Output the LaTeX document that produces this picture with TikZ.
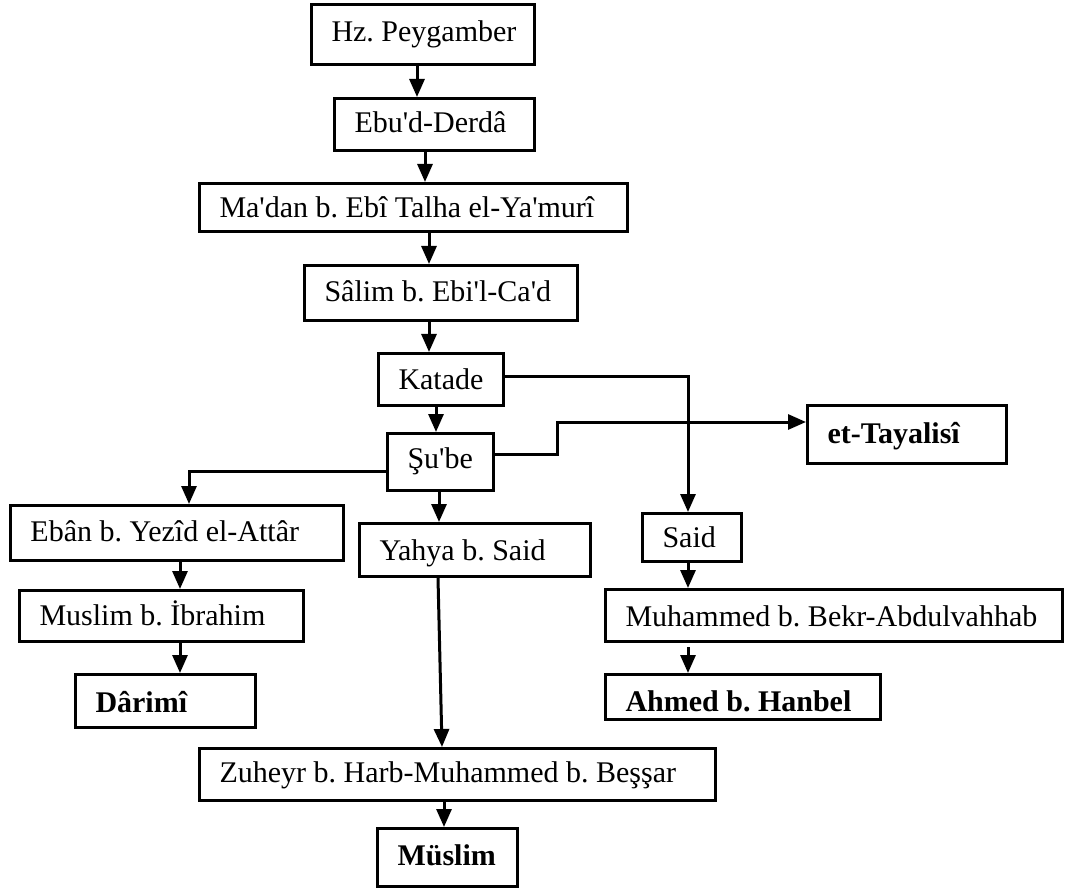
\documentclass[tikz,border=0pt]{standalone}
\usepackage{fontspec}
\setmainfont{Liberation Serif}
\usetikzlibrary{arrows.meta,calc}
\newcommand{\tb}[2]{\makebox[\dimexpr#1pt-43pt\relax][l]{#2}}
\newcommand{\q}{\textquotesingle}
\tikzset{
  box/.style={draw, line width=3pt, inner xsep=20pt, inner ysep=0pt,
    text height=18pt, text depth=0pt, font=\fontsize{30}{34}\selectfont},
  bbox/.style={box, font=\fontsize{30}{34}\selectfont\bfseries},
  arr/.style={line width=3pt, -{Triangle[length=18pt,width=15pt]}},
}
\begin{document}
\frenchspacing
\begin{tikzpicture}[x=1pt,y=-1pt]
\useasboundingbox (0,0) rectangle (1065,890);
% boxes
\node[box, minimum height=60pt, text height=15pt] (hz) at (423,34.5) {\tb{226}{Hz. Peygamber}};
\node[box, minimum height=52pt, text height=17pt] (ebu) at (434.5,124.5) {\tb{203}{Ebu\q d-Derdâ}};
\node[box, minimum height=48pt, text height=21pt] (madan) at (413.5,207.5) {\tb{431}{Ma\q dan b. Ebî Talha el-Ya\q murî}};
\node[box, minimum height=55pt, text height=17pt] (salim) at (441,293) {\tb{276}{Sâlim b. Ebi\q l-Ca\q d}};
\node[box, minimum height=52pt, text height=19pt] (katade) at (441,379.5) {\tb{128}{Katade}};
\node[box, minimum height=57pt, text height=12pt] (sube) at (440.5,462) {\tb{109}{Şu\q be}};
\node[bbox, minimum height=58pt, text height=17pt] (tayalisi) at (907,434.5) {\tb{202}{et-Tayalisî}};
\node[box, minimum height=55pt, text height=17pt] (eban) at (177,533) {\tb{336}{Ebân b. Yezîd el-Attâr}};
\node[box, minimum height=53pt, text height=20pt] (yahya) at (475,550) {\tb{234}{Yahya b. Said}};
\node[box, minimum height=48pt, text height=19pt] (said) at (692,537.5) {\tb{102}{Said}};
\node[box, minimum height=51pt, text height=18pt] (muslimib) at (161.5,616) {\tb{287}{Muslim b. İbrahim}};
\node[box, minimum height=52pt, text height=22pt] (muhammed) at (834,615.5) {\tb{460}{Muhammed b. Bekr-Abdulvahhab}};
\node[bbox, minimum height=53pt, text height=22pt] (darimi) at (165.5,701) {\tb{183}{Dârimî}};
\node[bbox, minimum height=45pt, text height=28pt] (ahmed) at (743,697) {\tb{278}{Ahmed b. Hanbel}};
\node[box, minimum height=52pt, text height=16pt] (zuheyr) at (457.5,774.5) {\tb{519}{Zuheyr b. Harb-Muhammed b. Beşşar}};
\node[bbox, minimum height=58pt, text height=15pt] (muslim) at (447.5,857.5) {\tb{143}{Müslim}};
% connectors
\draw[arr] ([xshift=-6pt]hz.south) -- ([xshift=-6pt]hz.south |- ebu.north);
\draw[arr] ([xshift=-9.5pt]ebu.south) -- ([xshift=-9.5pt]ebu.south |- madan.north);
\draw[arr] ([xshift=15.5pt]madan.south) -- ([xshift=15.5pt]madan.south |- salim.north);
\draw[arr] ([xshift=-12pt]salim.south) -- ([xshift=-12pt]salim.south |- katade.north);
\draw[arr] ([xshift=-5pt]katade.south) -- ([xshift=-5pt]katade.south |- sube.north);
\draw[arr] ([xshift=-1.5pt]sube.south) -- ([xshift=-1.5pt]sube.south |- yahya.north);
\draw[arr] ([yshift=3.5pt]katade.east) -| ([xshift=-4pt]said.north);
\draw[arr] ([yshift=8pt]sube.east) -- ++(62,0) |- ([yshift=12.5pt]tayalisi.west);
\draw[arr] ([yshift=-9pt]sube.west) -| ([xshift=12pt]eban.north);
\draw[arr] ([xshift=3pt]eban.south) -- ([xshift=3pt]eban.south |- muslimib.north);
\draw[arr] ([xshift=18.5pt]muslimib.south) -- ([xshift=18.5pt]muslimib.south |- darimi.north);
\draw[arr] ([xshift=-37pt]yahya.south) -- ([xshift=-15.5pt]zuheyr.north);
\draw[arr] ([xshift=-4pt]said.south) -- ([xshift=-4pt]said.south |- muhammed.north);
\draw[arr] ([xshift=-146pt,yshift=-4pt]muhammed.south) -- ([xshift=-146pt]muhammed.south |- ahmed.north);
\draw[arr] ([xshift=-13.5pt]zuheyr.south) -- ([xshift=-13.5pt]zuheyr.south |- muslim.north);
\end{tikzpicture}
\end{document}
